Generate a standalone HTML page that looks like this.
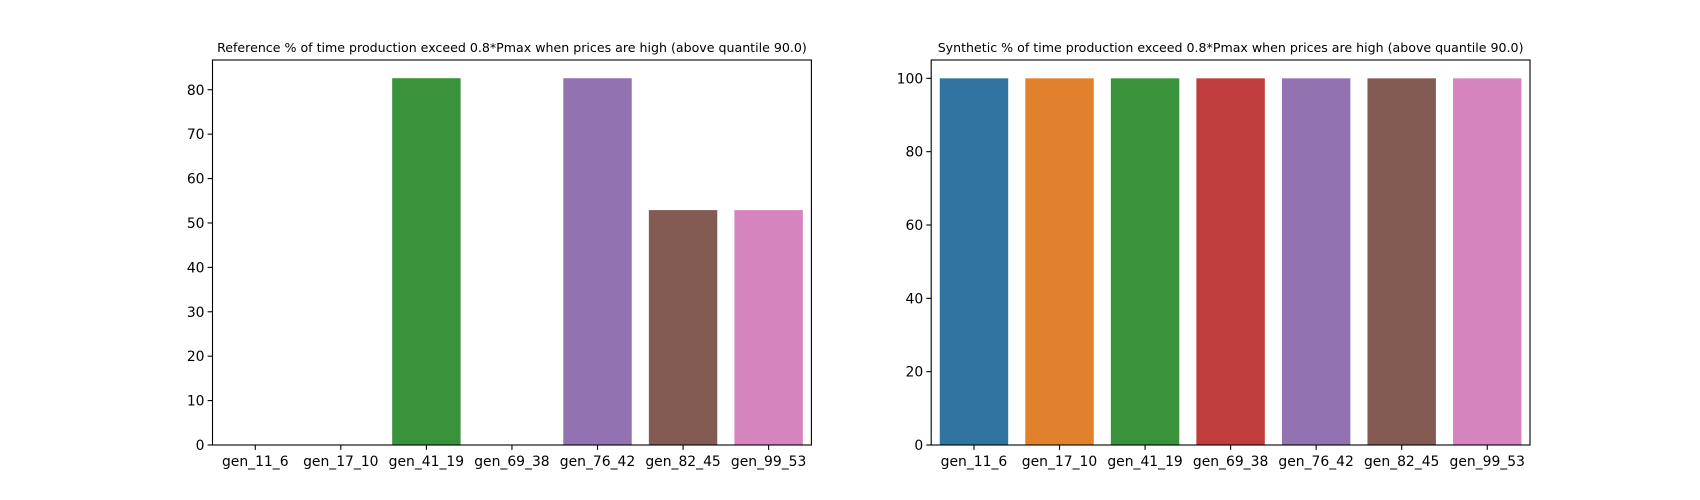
<!DOCTYPE html>
<html><head><meta charset="utf-8"><style>body{margin:0;background:#fff}svg{display:block;font-family:"DejaVu Sans","Liberation Sans",sans-serif}</style></head>
<body>
<svg id="fig" width="1700" height="500" xmlns="http://www.w3.org/2000/svg"></svg>
<script>
const categories = ["gen_11_6","gen_17_10","gen_41_19","gen_69_38","gen_76_42","gen_82_45","gen_99_53"];
const refValues = [0, 0, 82.6, 0, 82.6, 52.9, 52.9];
const synValues = [100, 100, 100, 100, 100, 100, 100];
const refTicks = [0,10,20,30,40,50,60,70,80];
const synTicks = [0,20,40,60,80,100];
const colors = ["#3274a1","#e1812c","#3a923a","#c03d3e","#9372b2","#845b53","#d684bd"];
const NS="http://www.w3.org/2000/svg";
const svg=document.getElementById('fig');
function mk(t,a,p){const e=document.createElementNS(NS,t);for(const k in a)e.setAttribute(k,a[k]);(p||svg).appendChild(e);return e;}
function panel(name,x0,x1,title,vals,ticks,ymax){
  const y0=60,y1=445;
  const g=mk('g',{});
  
  
  const xs=i=>x0+(i+0.5)/categories.length*(x1-x0);
  const ys=v=>y1-v/ymax*(y1-y0);
  const bw=0.8*(x1-x0)/categories.length;
  vals.forEach((v,i)=>{
    const r=mk('rect',{x:xs(i)-bw/2,y:ys(v),width:bw,height:y1-ys(v),fill:colors[i]},g);
    
    
  });
  const fr=mk('rect',{x:x0,y:y0,width:x1-x0,height:y1-y0,fill:'none',stroke:'#000','stroke-width':1.1},g);
  
  
  ticks.forEach(t=>{
    const y=ys(t);
    mk('line',{x1:x0-4.9,x2:x0,y1:y,y2:y,stroke:'#000','stroke-width':1.1},g);
    const tx=mk('text',{x:x0-8,y:y+5,'text-anchor':'end','font-size':13.9},g);
    tx.textContent=t;
    
    
  });
  categories.forEach((c,i)=>{
    const x=xs(i);
    mk('line',{x1:x,x2:x,y1:y1,y2:y1+4.9,stroke:'#000','stroke-width':1.1},g);
    const tx=mk('text',{x:x,y:y1+21,'text-anchor':'middle','font-size':13.9},g);
    tx.textContent=c;
    
    
  });
  const tt=mk('text',{x:(x0+x1)/2,y:52,'text-anchor':'middle','font-size':12.6},g);
  tt.textContent=title;
  
  
}
panel('reference-chart',212.5,811.4,'Reference % of time production exceed 0.8*Pmax when prices are high (above quantile 90.0)',refValues,refTicks,86.7);
panel('synthetic-chart',931.2,1530,'Synthetic % of time production exceed 0.8*Pmax when prices are high (above quantile 90.0)',synValues,synTicks,105);
</script>
</body></html>
